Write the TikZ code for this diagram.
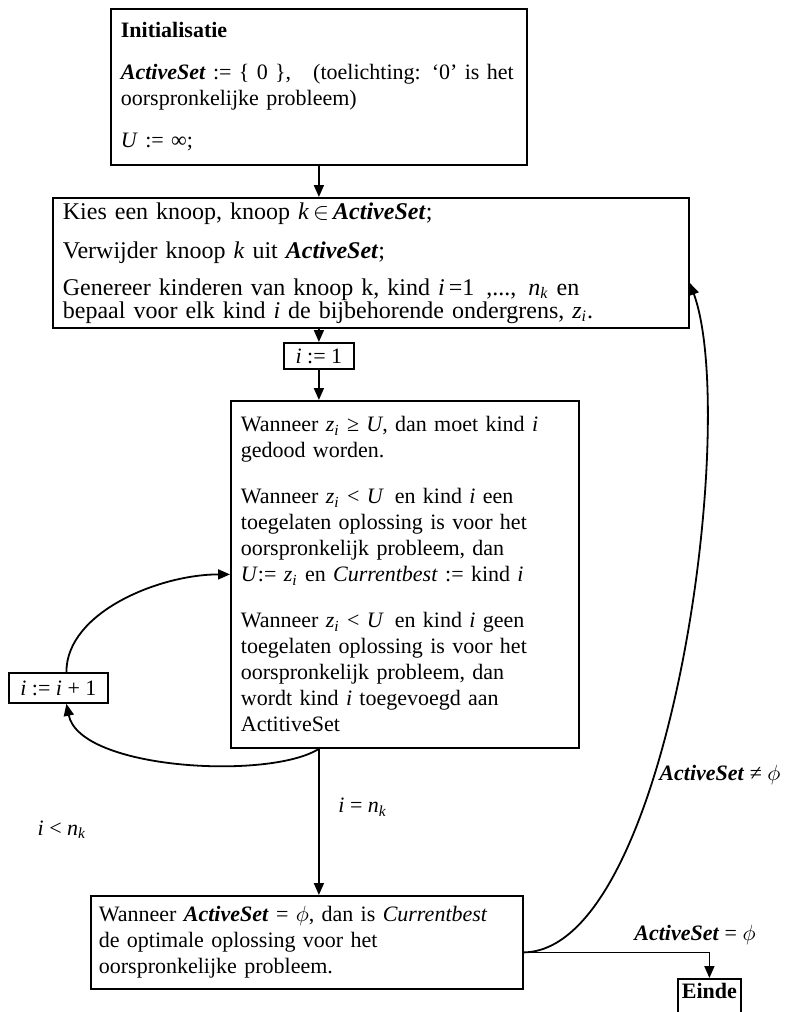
\documentclass[tikz,border=0pt]{standalone}
\usepackage{fontspec}
\setmainfont{Liberation Serif}
\usetikzlibrary{arrows.meta}
\newcommand{\zi}{\textit{z}\textsubscript{\textit{i}}}
\newcommand{\nk}{\textit{n}\textsubscript{\textit{k}}}
\newcommand{\actset}{\textbf{\textit{ActiveSet}}}
\begin{document}
\begin{tikzpicture}[x=0.5pt, y=-0.5pt, >={Triangle[length=6pt,width=5pt]},
  box/.style={draw, rectangle, line width=0.9pt, anchor=north west, align=left,
    inner xsep=5pt, inner ysep=3pt, font=\fontsize{11}{13}\selectfont},
  small/.style={box, align=center, inner sep=2pt},
  lbl/.style={font=\fontsize{11}{13}\selectfont},
  every path/.style={line width=0.9pt}]
\useasboundingbox (0,0) rectangle (788,1012);

\node[box, text width=198pt, minimum height=78pt] (init) at (110,8) {\textbf{Initialisatie}\\[8pt]
  \actset{} := \{ 0 \},\quad (toelichting: `0' is het\\
  oorspronkelijke probleem)\\[8pt]
  \textit{U} := ∞;};
\node[box, text width=308pt, inner ysep=1pt, minimum height=65pt, font=\fontsize{12}{11.5}\selectfont] (kies) at (52,197) {Kies een knoop, knoop \textit{k}\,$\in$\,\actset;\\[8pt]
  Verwijder knoop \textit{k} uit \actset;\\[7pt]
  Genereer kinderen van knoop k, kind \textit{i}\,=1\, ,...,\, \nk{} en\\
  bepaal voor elk kind \textit{i} de bijbehorende ondergrens, \zi.};
\node[small, minimum width=35pt, minimum height=13pt] (start) at (283,342) {\textit{i} := 1};
\node[box, text width=164pt, minimum height=173.5pt] (test) at (230,400) {Wanneer \zi{} ≥ \textit{U}, dan moet kind \textit{i}\\
  gedood worden.\\[10pt]
  Wanneer \zi{} < \textit{U}\, en kind \textit{i} een\\
  toegelaten oplossing is voor het\\
  oorspronkelijk probleem, dan\\
  \textit{U}:= \zi{} en \textit{Currentbest} := kind \textit{i}\\[10pt]
  Wanneer \zi{} < \textit{U}\, en kind \textit{i} geen\\
  toegelaten oplossing is voor het\\
  oorspronkelijk probleem, dan\\
  wordt kind \textit{i} toegevoegd aan\\
  ActitiveSet};
\node[small, minimum width=49.5pt, minimum height=15pt] (inc) at (8,672) {\textit{i} := \textit{i} + 1};
\node[box, text width=208pt, inner xsep=4pt, minimum height=46.5pt] (final) at (90,895) {Wanneer \actset{} = $\phi$, dan is \textit{Currentbest}\\
  de optimale oplossing voor het\\
  oorspronkelijke probleem.};
\node[small, font=\fontsize{11}{13}\selectfont\bfseries, minimum width=30.5pt, text height=8pt, text depth=22pt] (einde) at (677,978) {Einde};

\node[lbl] (lt) at (62,830) {\textit{i} < \nk};
\node[lbl, anchor=east] (ne) at (788,775) {\actset{} ≠ $\phi$};
\node[lbl] (eq) at (695,935) {\actset{} = $\phi$};

\draw[->] (init.south -| start) -- (kies.north -| start);
\draw[->] (kies.south -| start) -- (start);
\draw[->] (start) -- (start |- test.north);
\draw[->] (start |- test.south) -- node[lbl, right, pos=0.4, xshift=6pt] {\textit{i} = \nk} (start |- final.north);
\draw[->] (start |- test.south) .. controls (270,780) and (80,770) .. ([xshift=4pt]inc.south);
\draw[->] ([xshift=4pt]inc.north) .. controls +(0,-60) and +(-70,0) .. (test.west);
\draw[->] ([yshift=-5pt]final.east) -| (einde.north);
\draw[->] ([yshift=-5pt]final.east) .. controls (670,950) and (740,420) .. ([yshift=-10pt]kies.east);
\end{tikzpicture}
\end{document}
